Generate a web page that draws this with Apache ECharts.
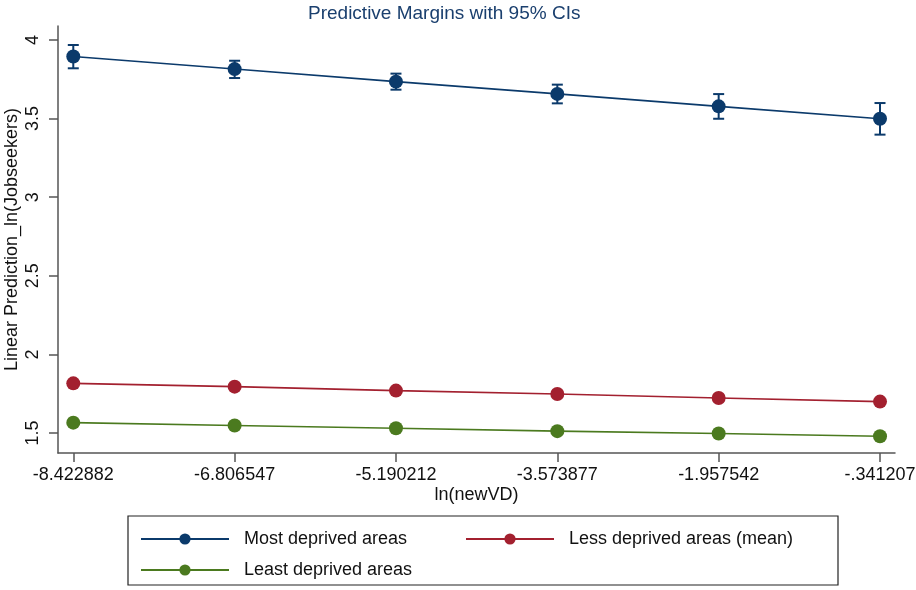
<!DOCTYPE html>
<html>
<head>
<meta charset="utf-8">
<script src="https://cdn.jsdelivr.net/npm/echarts@6/dist/echarts.min.js"></script>
<style>
  html, body { margin: 0; padding: 0; background: #fff; }
  #chart { width: 916px; height: 590px; }
</style>
</head>
<body>
<div id="chart"></div>
<script>
// x positions (ln(newVD)) and their printed labels
var xVals = [-8.422882, -6.806547, -5.190212, -3.573877, -1.957542, -0.341207];
var xLabels = ['-8.422882', '-6.806547', '-5.190212', '-3.573877', '-1.957542', '-.341207'];
var yTicks = [1.5, 2, 2.5, 3, 3.5, 4];

var names = ['Most deprived areas', 'Less deprived areas (mean)', 'Least deprived areas'];
var mostDeprived = [3.895, 3.815, 3.735, 3.657, 3.578, 3.499];
var mostLow = [3.820, 3.758, 3.684, 3.597, 3.499, 3.398];
var mostHigh = [3.968, 3.868, 3.786, 3.716, 3.656, 3.599];
var lessDeprived = [1.816, 1.795, 1.770, 1.748, 1.723, 1.700];
var leastDeprived = [1.566, 1.548, 1.530, 1.512, 1.497, 1.480];

var colors = ['#0b3a6b', '#a3202f', '#4b7a1f'];
var font = 'Liberation Sans, Arial, sans-serif';

function pairs(ys) {
  return xVals.map(function (x, i) { return [x, ys[i]]; });
}

var ciData = xVals.map(function (x, i) { return [x, mostLow[i], mostHigh[i]]; });

var chart = echarts.init(document.getElementById('chart'));

function lineSeries(name, ys, color) {
  return {
    name: name,
    type: 'line',
    data: pairs(ys),
    symbol: 'circle',
    symbolSize: 14,
    z: 3,
    lineStyle: { color: color, width: 1.6 },
    itemStyle: { color: color },
    emphasis: { disabled: true }
  };
}

function oneLegend(name, left, top) {
  return {
    data: [name],
    left: left,
    top: top,
    padding: 0,
    itemWidth: 88,
    itemHeight: 14,
    selectedMode: false,
    textStyle: { fontFamily: font, fontSize: 18, color: '#111', padding: [0, 0, 0, 10] }
  };
}

var option = {
  animation: false,
  title: {
    text: 'Predictive Margins with 95% CIs',
    left: 308,
    top: 4,
    padding: 0,
    textStyle: { fontFamily: font, fontSize: 19, fontWeight: 'normal', color: '#1a3f6e' }
  },
  grid: { left: 58, right: 21, top: 26, bottom: 137, containLabel: false, outerBoundsMode: 'none' },
  xAxis: {
    type: 'value',
    min: -8.576,
    max: -0.191,
    name: 'ln(newVD)',
    nameLocation: 'middle',
    nameGap: 33,
    nameMoveOverlap: false,
    nameTextStyle: { fontFamily: font, fontSize: 18, color: '#111', verticalAlign: 'top' },
    axisLine: { lineStyle: { color: '#555', width: 1.5 } },
    axisTick: { customValues: xVals, length: 9, lineStyle: { color: '#555', width: 1.5 } },
    axisLabel: {
      customValues: xVals,
      margin: 13,
      fontFamily: font,
      fontSize: 18,
      color: '#111',
      formatter: function (v) {
        var best = 0;
        for (var i = 1; i < xVals.length; i++) {
          if (Math.abs(xVals[i] - v) < Math.abs(xVals[best] - v)) best = i;
        }
        return xLabels[best];
      }
    },
    splitLine: { show: false }
  },
  yAxis: {
    type: 'value',
    min: 1.373,
    max: 4.089,
    name: 'Linear Prediction_ln(Jobseekers)',
    nameLocation: 'middle',
    nameGap: 37,
    nameRotate: 90,
    nameMoveOverlap: false,
    nameTextStyle: { fontFamily: font, fontSize: 18, color: '#111' },
    axisLine: { show: true, lineStyle: { color: '#555', width: 1.5 } },
    axisTick: { show: true, customValues: yTicks, length: 9, lineStyle: { color: '#555', width: 1.5 } },
    axisLabel: {
      customValues: yTicks,
      rotate: 90,
      margin: 16,
      fontFamily: font,
      fontSize: 18,
      color: '#111',
      formatter: function (v) { return String(v); }
    },
    splitLine: { show: false }
  },
  legend: [
    oneLegend(names[0], 140, 530),
    oneLegend(names[1], 465, 530),
    oneLegend(names[2], 140, 561)
  ],
  graphic: [{
    type: 'rect',
    shape: { x: 128, y: 516, width: 710, height: 69 },
    style: { fill: 'none', stroke: '#222', lineWidth: 1.2 }
  }],
  series: [
    {
      name: 'CI',
      type: 'custom',
      data: ciData,
      z: 2,
      silent: true,
      renderItem: function (params, api) {
        var x = api.value(0);
        var lo = api.coord([x, api.value(1)]);
        var hi = api.coord([x, api.value(2)]);
        var cap = 5.5;
        var st = { stroke: colors[0], lineWidth: 2, fill: 'none' };
        return {
          type: 'group',
          children: [
            { type: 'line', shape: { x1: lo[0], y1: lo[1], x2: hi[0], y2: hi[1] }, style: st },
            { type: 'line', shape: { x1: lo[0] - cap, y1: lo[1], x2: lo[0] + cap, y2: lo[1] }, style: st },
            { type: 'line', shape: { x1: hi[0] - cap, y1: hi[1], x2: hi[0] + cap, y2: hi[1] }, style: st }
          ]
        };
      }
    },
    lineSeries(names[0], mostDeprived, colors[0]),
    lineSeries(names[1], lessDeprived, colors[1]),
    lineSeries(names[2], leastDeprived, colors[2])
  ]
};

chart.setOption(option);
</script>
</body>
</html>
